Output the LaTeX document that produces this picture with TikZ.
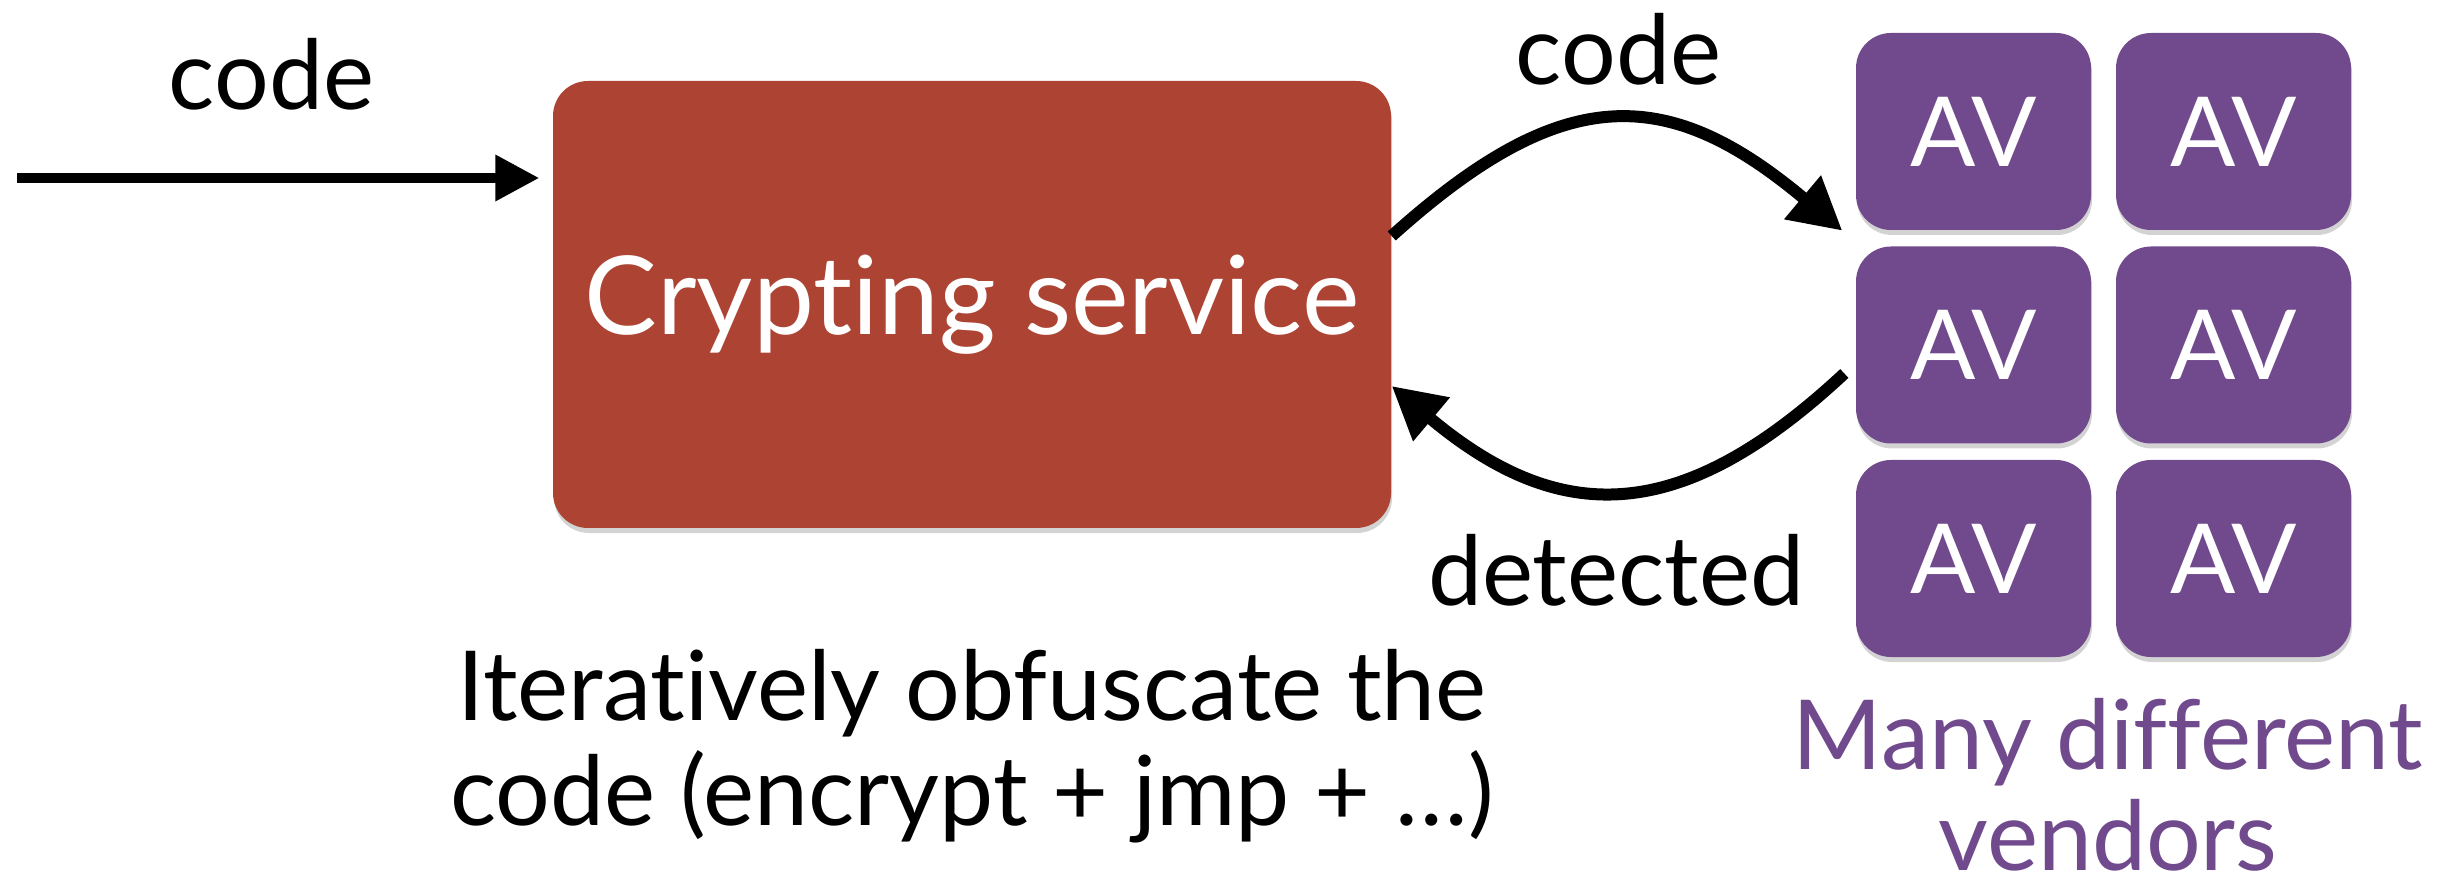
\documentclass[tikz,border=0pt]{standalone}
\usepackage{fontspec}
\setmainfont{Lato}[Ligatures={NoCommon}]
\usetikzlibrary{arrows.meta,shadows}

\definecolor{cryptred}{HTML}{AD4333}
\definecolor{avpurple}{HTML}{704A8D}

\begin{document}
\begin{tikzpicture}[>={Triangle[length=0.44cm,width=0.44cm]},node distance=2.6cm,
  every node/.style={font=\fontsize{27.5}{29.8}\selectfont},
  box/.style={rounded corners=0.35cm,text=white,drop shadow={shadow xshift=0.01cm,shadow yshift=-0.05cm,opacity=0.35}},
  av/.style={box,fill=avpurple,minimum width=2.35cm,minimum height=1.97cm,inner sep=0pt},
  roundtrip/.style={line width=0.12cm,-{Triangle[length=0.52cm,width=0.54cm]}}]
\useasboundingbox (0,0) rectangle (24.52,-8.87);

\node[box,fill=cryptred,minimum width=8.38cm,minimum height=4.47cm,font=\fontsize{31}{36}\selectfont] (crypt) at (9.72,-3.045) {Crypting service};

% the scanners, two columns of three
\node[av] (av11) at (19.735,-1.315) {AV};
 \node[av] (av12) [right of=av11] {AV};
\node[av] (av21) [node distance=2.135cm,below of=av11] {AV};
 \node[av] (av22) [right of=av21] {AV};
\node[av] (av31) [node distance=2.135cm,below of=av21] {AV};
 \node[av] (av32) [right of=av31] {AV};

% input
\coordinate (src) at (0.17,-1.78);
\draw[->,line width=0.1cm,shorten >=0.13cm] (src) -- (src -| crypt.west);
\node[anchor=base] (incode) at (2.715,-1.10) {code};

% submit and get the verdict back
\draw[roundtrip] ([yshift=0.685cm]crypt.east) to[out=42,in=140,looseness=1.3] ([xshift=-0.13cm]av11.south west);
\draw[roundtrip] ([xshift=-0.11cm,yshift=-0.285cm]av21.west) to[out=-137,in=-40,looseness=1.25] ([yshift=-0.815cm]crypt.east);
\node[anchor=base] (outcode) at (16.185,-0.85) {code};
\node[anchor=base] (detect) at (16.16,-6.05) {detected};

% base anchor sits on the last line here
\node[anchor=base,align=center] (note) at (9.72,-8.25) {Iteratively obfuscate the\\code (encrypt + jmp + …)};
\node[anchor=base,align=center,text=avpurple,inner sep=0pt,font=\fontsize{27.5}{28.6}\selectfont] (vendors) at (21.08,-8.70) {Many different\\vendors};
\end{tikzpicture}
\end{document}
